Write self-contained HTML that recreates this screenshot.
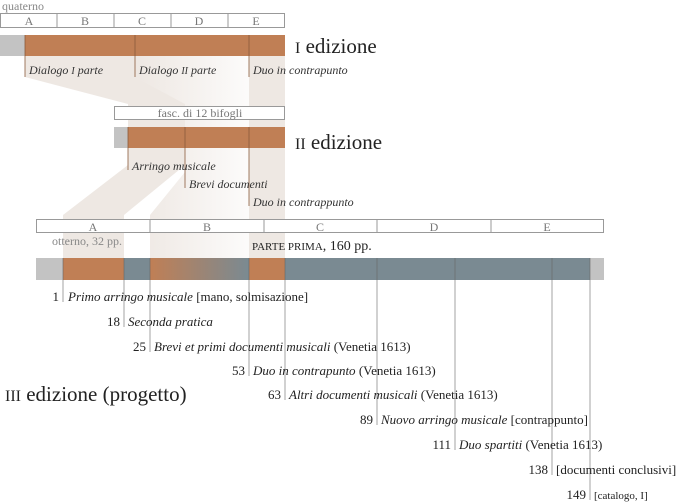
<!DOCTYPE html>
<html><head><meta charset="utf-8"><style>
body{margin:0;background:#fff}
svg{display:block;font-family:"Liberation Serif",serif}
.i{font-style:italic}
</style></head><body>
<svg width="680" height="503" viewBox="0 0 680 503">
<defs>
<linearGradient id="g" x1="0" x2="1"><stop offset="0" stop-color="#c07f55"/><stop offset="1" stop-color="#7a8a92"/></linearGradient>
<linearGradient id="bf" gradientUnits="userSpaceOnUse" x1="135" y1="0" x2="249" y2="0"><stop offset="0" stop-color="rgba(185,160,140,0.25)"/><stop offset="1" stop-color="rgba(185,160,140,0.04)"/></linearGradient>
</defs>
<g fill="rgba(185,160,140,0.24)">
<polygon points="25,56 135,56 135,77 185,104 185,165 124,215 124,258 63,258 63,215 128,165 128,104 25,77"/>
<polygon points="135,56 249,56 249,258 150,258 150,215 185,172 185,104 135,77" fill="url(#bf)"/>
<polygon points="249,56 285,56 285,258 249,258"/>
</g>
<!-- Edition I -->
<text x="2" y="10" font-size="12" fill="#888">quaterno</text>
<rect x="0.5" y="13.5" width="284" height="14" fill="#fff" stroke="#999"/>
<g stroke="#999"><line x1="57" y1="14" x2="57" y2="28"/><line x1="114" y1="14" x2="114" y2="28"/><line x1="171" y1="14" x2="171" y2="28"/><line x1="228" y1="14" x2="228" y2="28"/></g>
<g font-size="12" fill="#777" text-anchor="middle"><text x="29" y="25">A</text><text x="85" y="25">B</text><text x="142" y="25">C</text><text x="199" y="25">D</text><text x="256" y="25">E</text></g>
<rect x="0" y="35" width="25" height="21" fill="#c3c3c3"/>
<rect x="25" y="35" width="260" height="21" fill="#c07f55"/>
<g stroke="#8a5a3c" stroke-width="0.8"><line x1="25" y1="35" x2="25" y2="77"/><line x1="135" y1="35" x2="135" y2="77"/><line x1="249" y1="35" x2="249" y2="77"/></g>
<text x="295" y="53" font-size="21" fill="#222"><tspan font-size="16">I</tspan> edizione</text>
<g class="i" font-size="12" fill="#333"><text x="29" y="74">Dialogo <tspan font-size="10">I</tspan> parte</text><text x="139" y="74">Dialogo <tspan font-size="10">II</tspan> parte</text><text x="253" y="74">Duo in contrapunto</text></g>
<!-- Edition II -->
<rect x="114.5" y="106.5" width="170" height="13" fill="#fff" stroke="#999"/>
<text x="200" y="117" font-size="12" fill="#777" text-anchor="middle">fasc. di 12 bifogli</text>
<rect x="114" y="127" width="14" height="21" fill="#c3c3c3"/>
<rect x="128" y="127" width="157" height="21" fill="#c07f55"/>
<g stroke="#8a5a3c" stroke-width="0.8"><line x1="128" y1="127" x2="128" y2="170"/><line x1="185" y1="127" x2="185" y2="188"/><line x1="249" y1="127" x2="249" y2="206"/></g>
<text x="295" y="149" font-size="21" fill="#222"><tspan font-size="16">II</tspan> edizione</text>
<g class="i" font-size="12" fill="#333"><text x="132" y="170">Arringo musicale</text><text x="189" y="188">Brevi documenti</text><text x="253" y="206">Duo in contrappunto</text></g>
<!-- Edition III -->
<rect x="36.5" y="219.5" width="567" height="13" fill="#fff" stroke="#999"/>
<g stroke="#999"><line x1="150" y1="220" x2="150" y2="233"/><line x1="264" y1="220" x2="264" y2="233"/><line x1="377" y1="220" x2="377" y2="233"/><line x1="491" y1="220" x2="491" y2="233"/></g>
<g font-size="12" fill="#777" text-anchor="middle"><text x="93" y="231">A</text><text x="207" y="231">B</text><text x="320" y="231">C</text><text x="434" y="231">D</text><text x="547" y="231">E</text></g>
<text x="52" y="245" font-size="12" fill="#888">otterno, 32 pp.</text>
<text x="252" y="250" font-size="14" fill="#222"><tspan font-size="11">PARTE PRIMA</tspan>, 160 pp.</text>
<rect x="36" y="258" width="568" height="22" fill="#c3c3c3"/>
<rect x="63" y="258" width="61" height="22" fill="#c07f55"/>
<rect x="124" y="258" width="26" height="22" fill="#7a8a92"/>
<rect x="150" y="258" width="99" height="22" fill="url(#g)"/>
<rect x="249" y="258" width="36" height="22" fill="#c07f55"/>
<rect x="285" y="258" width="305" height="22" fill="#7a8a92"/>
<g stroke="#666" stroke-width="0.6">
<line x1="63" y1="258" x2="63" y2="302"/><line x1="124" y1="258" x2="124" y2="327"/><line x1="150" y1="258" x2="150" y2="352"/><line x1="249" y1="258" x2="249" y2="376"/><line x1="285" y1="258" x2="285" y2="400"/><line x1="377" y1="258" x2="377" y2="425"/><line x1="455" y1="258" x2="455" y2="450"/><line x1="552" y1="258" x2="552" y2="475"/><line x1="590" y1="258" x2="590" y2="500"/>
</g>
<g font-size="13" fill="#222">
<text x="59" y="301" text-anchor="end">1</text><text x="68" y="301"><tspan class="i">Primo arringo musicale</tspan> [mano, solmisazione]</text>
<text x="120" y="326" text-anchor="end">18</text><text x="128" y="326" class="i">Seconda pratica</text>
<text x="146" y="351" text-anchor="end">25</text><text x="154" y="351"><tspan class="i">Brevi et primi documenti musicali</tspan> (Venetia 1613)</text>
<text x="245" y="375" text-anchor="end">53</text><text x="253" y="375"><tspan class="i">Duo in contrapunto</tspan> (Venetia 1613)</text>
<text x="281" y="399" text-anchor="end">63</text><text x="289" y="399"><tspan class="i">Altri documenti musicali</tspan> (Venetia 1613)</text>
<text x="373" y="424" text-anchor="end">89</text><text x="381" y="424"><tspan class="i">Nuovo arringo musicale</tspan> [contrappunto]</text>
<text x="451" y="449" text-anchor="end">111</text><text x="459" y="449"><tspan class="i">Duo spartiti</tspan> (Venetia 1613)</text>
<text x="548" y="474" text-anchor="end">138</text><text x="556" y="474">[documenti conclusivi]</text>
<text x="586" y="499" text-anchor="end">149</text><text x="594" y="499" font-size="11">[catalogo, I]</text>
</g>
<text x="5" y="401" font-size="21" fill="#222"><tspan font-size="16">III</tspan> edizione (progetto)</text>
</svg>
</body></html>
